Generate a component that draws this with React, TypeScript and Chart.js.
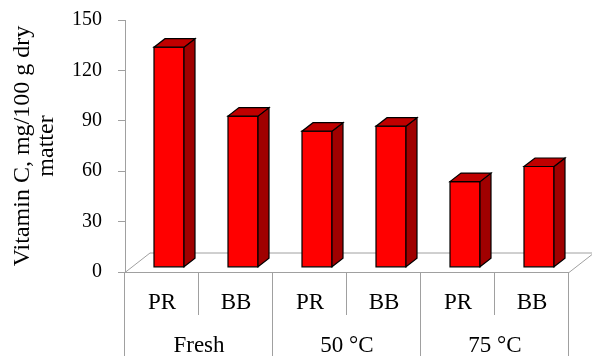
import React, { useEffect, useRef } from 'react';
import { Chart, registerables } from 'chart.js';

Chart.register(...registerables);

// Vitamin C content by drying treatment and variety
const groups = ['Fresh', '50 °C', '75 °C'];
const varieties = ['PR', 'BB', 'PR', 'BB', 'PR', 'BB'];
const vitaminC = [131, 90, 81, 84, 51, 60];
const yMin = 0;
const yMax = 150;
const yStep = 30;
const yTitle = ['Vitamin C, mg/100 g dry', 'matter'];

const SERIF = "'Liberation Serif', 'Times New Roman', serif";
const GRID = '#a0a0a0';

// 3D look: floor depth vector, bar placement inside the floor, bar depth
const FLOOR_DX = 25;
const FLOOR_DY = -19.5;
const BAR_OX = 7;
const BAR_OY = -4.7;
const BAR_W = 30;
const BAR_DX = 11;
const BAR_DY = -8.5;

const columns3d = {
  id: 'columns3d',
  beforeDatasetsDraw(chart: any) {
    const { ctx, chartArea } = chart;
    const y0 = Math.round(chart.scales.y.getPixelForValue(0)) + 0.5;
    const l = chartArea.left;
    const r = chartArea.right;
    ctx.save();
    ctx.strokeStyle = GRID;
    ctx.lineWidth = 1;
    ctx.beginPath();
    ctx.moveTo(l, y0);
    ctx.lineTo(r, y0);
    ctx.lineTo(r + FLOOR_DX, y0 + FLOOR_DY);
    ctx.lineTo(l + FLOOR_DX, y0 + FLOOR_DY);
    ctx.lineTo(l, y0);
    ctx.stroke();
    ctx.restore();
  },
  afterDatasetsDraw(chart: any) {
    const { ctx } = chart;
    const meta = chart.getDatasetMeta(0);
    ctx.save();
    ctx.lineWidth = 1.2;
    ctx.strokeStyle = '#000000';
    ctx.lineJoin = 'miter';
    meta.data.forEach((el: any) => {
      const x0 = el.x + BAR_OX - BAR_W / 2;
      const x1 = x0 + BAR_W;
      const yt = el.y + BAR_OY;
      const yb = el.base + BAR_OY;
      // front face
      ctx.fillStyle = '#ff0000';
      ctx.beginPath();
      ctx.rect(x0, yt, BAR_W, yb - yt);
      ctx.fill();
      ctx.stroke();
      // side face
      ctx.fillStyle = '#a00000';
      ctx.beginPath();
      ctx.moveTo(x1, yb);
      ctx.lineTo(x1, yt);
      ctx.lineTo(x1 + BAR_DX, yt + BAR_DY);
      ctx.lineTo(x1 + BAR_DX, yb + BAR_DY);
      ctx.closePath();
      ctx.fill();
      ctx.stroke();
      // top face
      ctx.fillStyle = '#c00000';
      ctx.beginPath();
      ctx.moveTo(x0, yt);
      ctx.lineTo(x1, yt);
      ctx.lineTo(x1 + BAR_DX, yt + BAR_DY);
      ctx.lineTo(x0 + BAR_DX, yt + BAR_DY);
      ctx.closePath();
      ctx.fill();
      ctx.stroke();
    });
    ctx.restore();
  },
  afterDraw(chart: any) {
    // two-level category table under the floor
    const { ctx, chartArea } = chart;
    const xs = chart.scales.x;
    const y0 = chart.scales.y.getPixelForValue(0);
    const n = varieties.length;
    const w = (chartArea.right - chartArea.left) / n;
    const bottom = chart.height;
    ctx.save();
    ctx.strokeStyle = GRID;
    ctx.lineWidth = 1;
    for (let k = 0; k <= n; k++) {
      const x = Math.round(chartArea.left + k * w) - 0.5;
      const isGroupEdge = k % 2 === 0;
      ctx.beginPath();
      ctx.moveTo(x, y0);
      ctx.lineTo(x, isGroupEdge ? bottom : y0 + 43);
      ctx.stroke();
    }
    ctx.fillStyle = '#000000';
    ctx.font = `23px ${SERIF}`;
    ctx.textAlign = 'center';
    ctx.textBaseline = 'alphabetic';
    varieties.forEach((v, i) => {
      ctx.fillText(v, xs.getPixelForValue(i), y0 + 37);
    });
    groups.forEach((g, gi) => {
      const cx = (xs.getPixelForValue(gi * 2) + xs.getPixelForValue(gi * 2 + 1)) / 2;
      ctx.fillText(g, cx, y0 + 79.5);
    });
    ctx.restore();
  },
};

export default function App() {
  const canvasRef = useRef<HTMLCanvasElement | null>(null);

  useEffect(() => {
    const canvas = canvasRef.current;
    if (!canvas) return;
    const chart = new Chart(canvas, {
      type: 'bar',
      data: {
        labels: varieties.map((v, i) => `${v} ${groups[Math.floor(i / 2)]}`),
        datasets: [
          {
            data: vitaminC,
            backgroundColor: 'rgba(0,0,0,0)',
            borderWidth: 0,
          },
        ],
      },
      options: {
        responsive: false,
        animation: false,
        devicePixelRatio: 1,
        layout: { padding: { left: 0, top: 20, right: 23, bottom: 84 } },
        plugins: {
          legend: { display: false },
          tooltip: { enabled: false },
        },
        scales: {
          x: { display: false },
          y: {
            min: yMin,
            max: yMax,
            ticks: {
              stepSize: yStep,
              color: '#000000',
              padding: 16,
              font: { family: SERIF, size: 20 },
            },
            grid: {
              drawOnChartArea: false,
              drawTicks: true,
              tickLength: 7,
              color: GRID,
            },
            border: { display: true, color: GRID, width: 1 },
            title: {
              display: true,
              text: yTitle,
              color: '#000000',
              font: { family: SERIF, size: 24, lineHeight: 1 },
              padding: { top: 11, bottom: 0 },
            },
            afterFit(scale: any) {
              scale.width = 125;
              scale.paddingTop = 0;
              scale.paddingBottom = 0;
            },
          },
        },
      },
      plugins: [columns3d],
    });
    return () => chart.destroy();
  }, []);

  return (
    <div style={{ position: 'absolute', left: 0, top: 0, width: 592, height: 356, background: '#ffffff' }}>
      <canvas ref={canvasRef} width={592} height={356} />
    </div>
  );
}
